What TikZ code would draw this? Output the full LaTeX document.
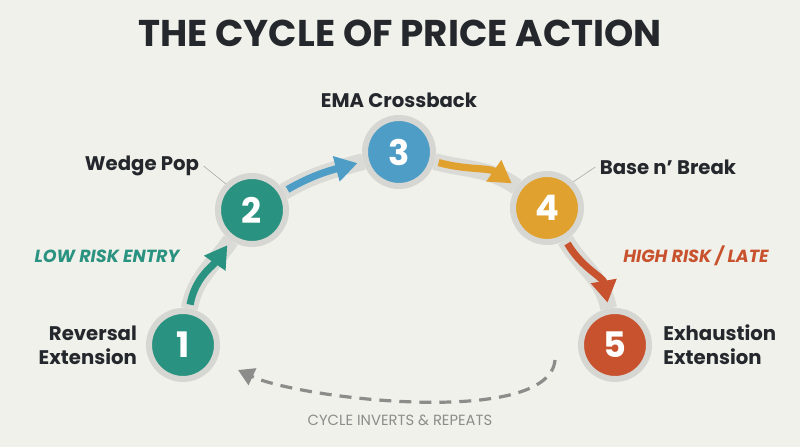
\documentclass[tikz,border=0pt]{standalone}
\usepackage{fontspec}
\setmainfont{Poppins}
\usetikzlibrary{arrows.meta, positioning, backgrounds}
\definecolor{paper}{HTML}{F1F1EB}
\definecolor{ink}{HTML}{24282D}
\definecolor{ringgray}{HTML}{D6D6D2}
\definecolor{trackgray}{HTML}{DADAD6}
\definecolor{dashgray}{HTML}{8C8C8A}
\definecolor{tealc}{HTML}{2A9280}
\definecolor{bluec}{HTML}{4E9DC6}
\definecolor{goldc}{HTML}{E0A12F}
\definecolor{redc}{HTML}{C8522E}
\tikzset{
	stage/.style={circle, draw=ringgray, line width=0.15cm, minimum size=1.7cm, inner sep=0pt,
		text=white, font=\fontsize{25}{25}\selectfont\bfseries},
	lbl/.style={text=ink, font=\fontsize{14}{17}\selectfont\bfseries, inner sep=0pt},
	risk/.style={font=\fontsize{12.5}{14}\selectfont\bfseries\itshape, inner sep=0pt},
	track/.style={draw=trackgray, line width=0.42cm},
	flow/.style={line width=0.18cm, -{Triangle[width=0.62cm,length=0.55cm]}, shorten <=0.1cm, shorten >=0.15cm},
	leader/.style={draw=gray!70, line width=0.4pt},
}

\begin{document}
\begin{tikzpicture}
			\begin{scope}[on background layer]
				\fill[paper] (0,0) rectangle (20,11.175);
			\end{scope}
			\useasboundingbox (0,0) rectangle (20,11.175);
			\node[text=ink, font=\fontsize{26.5}{28}\selectfont\bfseries] (title) at (10,10.35) {THE CYCLE OF PRICE ACTION};
			% the five stages
			\node[stage, fill=tealc] (n1) at (4.575,2.55) {1};
			\node[stage, fill=tealc] (n2) at (6.3,5.925) {2};
			\node[stage, fill=bluec] (n3) at (9.975,7.375) {3};
			\node[stage, fill=goldc] (n4) at (13.675,5.975) {4};
			\node[stage, fill=redc] (n5) at (15.375,2.55) {5};
			% gray track behind the stages
			\begin{scope}[on background layer]
				\draw[track] (n1) to[out=80,in=235] (n2);
				\draw[track] (n2) to[out=30,in=195] (n3);
				\draw[track] (n3) to[out=-15,in=145] (n4);
				\draw[track] (n4) to[out=-60,in=100] (n5);
			\end{scope}
			\draw[flow, tealc] (n1) to[out=80,in=235] (n2);
			\draw[flow, bluec] (n2) to[out=30,in=195] (n3);
			\draw[flow, goldc] (n3) to[out=-15,in=145] (n4);
			\draw[flow, redc] (n4) to[out=-60,in=100] (n5);
			% labels
			\node[lbl, align=right, left=0.22cm of n1] (rev) {Reversal\\Extension};
			\node[lbl] (wp) at (3.55,7.025) {Wedge Pop};
			\node[lbl] (ema) at (9.975,8.675) {EMA Crossback};
			\node[lbl] (bb) at (16.7,7.0) {Base n’ Break};
			\node[lbl, align=left, right=0.28cm of n5] (exh) {Exhaustion\\Extension};
			\draw[leader] ([xshift=3pt]wp.east) -- (n2.north west);
			\draw[leader] ([xshift=-3pt]bb.west) -- (n4.north east);
			\node[risk, text=tealc] (low) at (2.675,4.775) {LOW RISK ENTRY};
			\node[risk, text=redc] (high) at (17.4,4.775) {HIGH RISK / LATE};
			% return path
			\coordinate (back0) at (13.875,2.175);
			\coordinate (back1) at (5.95,1.925);
			\draw[dashgray, line width=0.08cm, dash pattern=on 0.3cm off 0.2cm, -{Triangle[width=0.45cm,length=0.4cm]}]
				(back0) to[out=-95,in=-25,looseness=0.55] (back1);
			\node[text=dashgray, font=\fontsize{10.5}{12}\selectfont] (cyc) at (10,0.675) {CYCLE INVERTS \& REPEATS};
		\end{tikzpicture}
\end{document}
